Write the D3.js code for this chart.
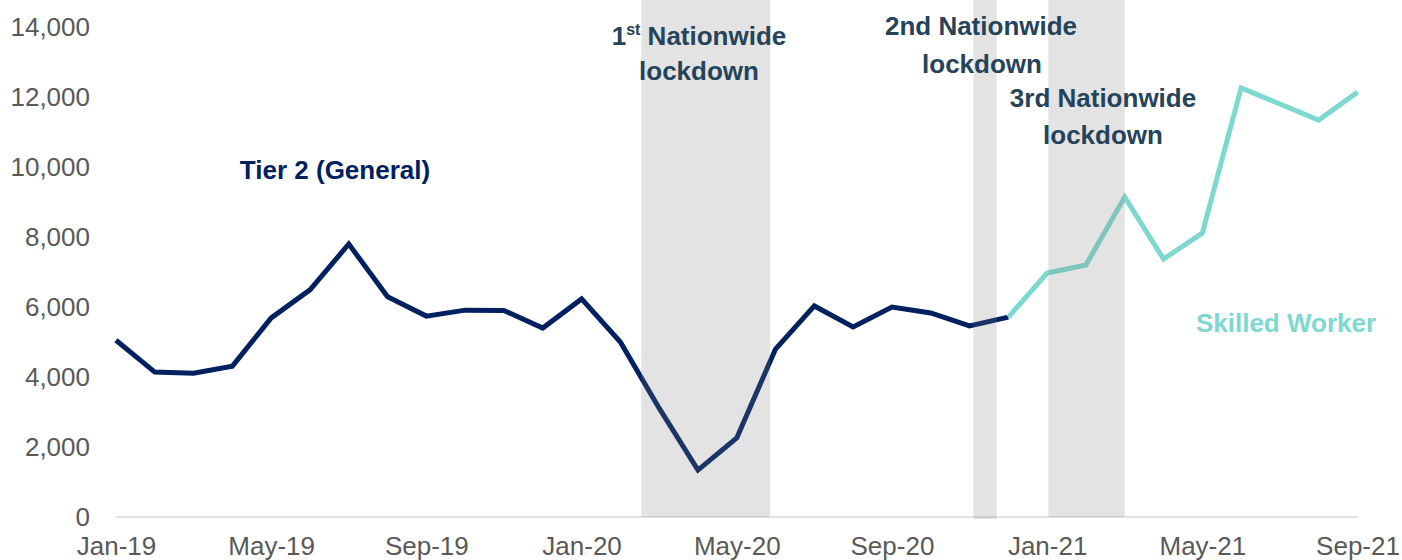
<!DOCTYPE html>
<html><head><meta charset="utf-8">
<script src="https://cdn.jsdelivr.net/npm/d3@7"></script>
<style>body{margin:0;background:#fff}svg{display:block}</style>
</head><body>
<svg id="c" width="1402" height="560"></svg>
<script>
const months = ["Jan-19","Feb-19","Mar-19","Apr-19","May-19","Jun-19","Jul-19","Aug-19","Sep-19","Oct-19","Nov-19","Dec-19",
"Jan-20","Feb-20","Mar-20","Apr-20","May-20","Jun-20","Jul-20","Aug-20","Sep-20","Oct-20","Nov-20","Dec-20",
"Jan-21","Feb-21","Mar-21","Apr-21","May-21","Jun-21","Jul-21","Aug-21","Sep-21"];
const tier2 = [5050,4140,4110,4310,5690,6490,7800,6290,5740,5910,5900,5400,6230,5000,3110,1340,2260,4800,6030,5430,6000,5830,5460,5710];
const skilledStart = 23;
const skilled = [5710,6970,7200,9140,7370,8110,12260,11800,11340,12140];
const yTicks = [0,2000,4000,6000,8000,10000,12000,14000];
const xTickIdx = [0,4,8,12,16,20,24,28,32];
const lockdowns = [[13.54,16.86],[22.1,22.7],[24.03,26.0]];

const svg = d3.select("#c");
const x = d3.scaleLinear().domain([0,32]).range([116,1357.5]);
const y = d3.scaleLinear().domain([0,14000]).range([517,27]);
const font = "'Liberation Sans', Arial, sans-serif";

// axis line
svg.append("line").attr("x1",x(0)).attr("x2",x(32)+1).attr("y1",y(0)).attr("y2",y(0))
  .attr("stroke","#d9d9d9").attr("stroke-width",1.5);

// y ticks
const ya = svg.append("g").attr("transform","translate(90,0)")
  .call(d3.axisLeft(y).tickValues(yTicks).tickSize(0).tickPadding(0).tickFormat(d3.format(",")));
ya.select(".domain").remove();
ya.selectAll("text").attr("font-family",font).attr("font-size",26).attr("fill","#595959");

// x ticks
const xa = svg.append("g").attr("transform",`translate(0,${y(0)})`)
  .call(d3.axisBottom(x).tickValues(xTickIdx).tickSize(0).tickPadding(20).tickFormat(i=>months[i]));
xa.select(".domain").remove();
xa.selectAll("text").attr("font-family",font).attr("font-size",26).attr("fill","#595959");

const line = d3.line().x(d=>x(d[0])).y(d=>y(d[1]));
svg.append("path").datum(tier2.map((v,i)=>[i,v])).attr("d",line)
  .attr("fill","none").attr("stroke","#002060").attr("stroke-width",5).attr("stroke-linejoin","miter");
svg.append("path").datum(skilled.map((v,i)=>[i+skilledStart,v])).attr("d",line)
  .attr("fill","none").attr("stroke","#7dd9d0").attr("stroke-width",5).attr("stroke-linejoin","miter");

// lockdown shading (over lines)
svg.selectAll("rect.ld").data(lockdowns).enter().append("rect")
  .attr("x",d=>x(d[0])).attr("width",d=>x(d[1])-x(d[0]))
  .attr("y",0).attr("height",(d,i)=>y(0)+(i===1?2:0))
  .attr("fill","#7f7f7f").attr("fill-opacity",0.22);

const lab = "#25435a";
function txt(s,xx,yy,color,anchor){
  return svg.append("text").attr("x",xx).attr("y",yy).attr("font-family",font).attr("font-size",26)
    .attr("font-weight","bold").attr("fill",color).attr("text-anchor",anchor||"middle").text(s);
}
const t1 = svg.append("text").attr("x",699).attr("y",45).attr("font-family",font).attr("font-size",26)
  .attr("font-weight","bold").attr("fill",lab).attr("text-anchor","middle");
t1.append("tspan").text("1");
t1.append("tspan").attr("font-size",16).attr("dy",-10).text("st");
t1.append("tspan").attr("dy",10).text(" Nationwide");
txt("lockdown",699,80,lab);
txt("2nd Nationwide",981,35,lab);
txt("lockdown",982,73,lab);
txt("3rd Nationwide",1103,107,lab);
txt("lockdown",1103,144,lab);
txt("Tier 2 (General)",335,179,"#002060");
txt("Skilled Worker",1286,332,"#7dd9d0");
</script>
</body></html>
